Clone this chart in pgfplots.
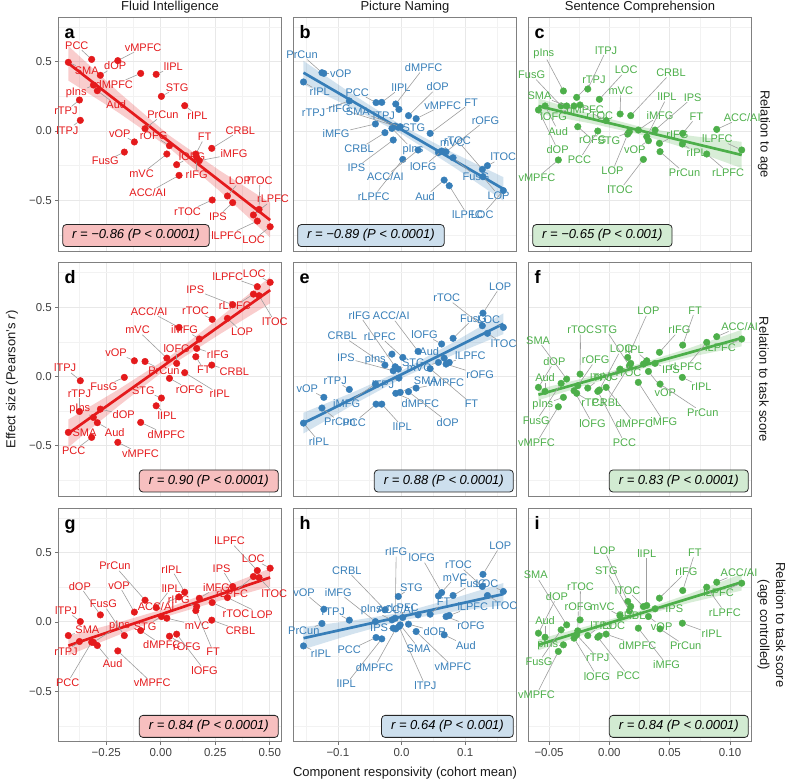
\documentclass[border=0pt]{standalone}
\usepackage{fontspec}
\setmainfont{Liberation Sans}
\usepackage{pgfplots}
\usepackage{pgfplotstable}
\pgfplotsset{compat=1.18}
\definecolor{cred}{HTML}{E41A1C}
\definecolor{cblue}{HTML}{377EB8}
\definecolor{cgreen}{HTML}{4DAF4A}

\pgfplotstableread{
n      x       ya     aa  da   yd     ad  dd  yg     ag  dg
SMA    -0.424  0.496  330 3    -0.404 0   0   -0.099 12  3
PCC    -0.317  0.517  105 6    -0.440 238 7   -0.147 252 34
vMPFC  -0.197  0.508  54  7    -0.476 299 4   -0.210 299 28
dOP    -0.277  0.402  56  2    -0.236 357 8   0.050  110 22
pIns   -0.309  0.332  202 3    -0.296 135 0   -0.148 36  15
Aud    -0.291  0.291  312 9    -0.334 324 5   -0.171 289 11
rTPJ   -0.373  0.224  260 3    -0.253 90  10  -0.142 260 2
lTPJ   -0.369  0.077  258 1.5  -0.031 113 5   0.002  111 3
dMPFC  -0.092  0.416  223 6    -0.332 311 6   -0.063 280 6
lIPL   -0.021  0.409  23  4    -0.212 278 1   0.103  72  12
STG    0.003   0.250  48  2    -0.156 154 3   0.038  231 3
rIPL   0.110   0.183  290 2    0.027  325 26  0.214  97  15
PrCun  -0.072  0.017  81  6    0.108  297 2   0.156  115 29
vOP    -0.121  -0.079 129 1.5  0.113  154 4   0.070  100 19
FusG   -0.167  -0.152 223 3    -0.007 214 4   -0.099 104 24
rOFG   0.040   -0.106 104 2    -0.014 312 5   -0.104 297 3
mVC    0.028   -0.166 231 16   0.132  125 25  0.026  352 14
lOFG   0.073   -0.243 69  0.5  0.094  90  6   -0.089 294 31
ACC/AI 0.084   -0.320 226 14   0.354  134 12  0.180  234 3
FT     0.161   -0.166 84  9    0.142  274 5   0.081  285 34
rIFG   0.165   -0.190 270 9    0.202  350 6   0.110  160 3
iMFG   0.177   -0.214 5   17   0.270  96  1   0.170  63  3
CRBL   0.234   -0.125 45  15   0.082  341 4   0.012  336 11
rTOC   0.236   -0.498 212 9    0.412  125 1   0.139  327 8
LOP    0.306   -0.469 86  7    0.419  287 6   0.175  332 22
IPS    0.330   -0.517 241 7    0.517  160 26  0.255  96  10
rLPFC  0.425   -0.606 75  8    0.594  256 4   0.327  250 10
lLPFC  0.443   -0.650 213 14   0.648  157 11  0.370  115 24
lTOC   0.451   -0.566 88  21   0.583  276 18  0.319  279 8
LOC    0.502   -0.691 242 6    0.679  133 2   0.387  138 3
}\colA

\pgfplotstableread{
n      x       yb     ab  db   ye     ae  de  yh     ah  dh
rIPL   -0.154  0.354  315 4    -0.337 288 11  -0.174 331 4
PrCun  -0.125  0.421  105 10   -0.228 279 6   -0.012 240 0
vOP    -0.122  0.416  0   2    -0.151 142 3   0.091  125 11
rTPJ   -0.082  0.217  198 21   -0.094 113 1   0.012  132 2
iMFG   -0.041  0.051  190 22   -0.055 225 17  0.002  133 30
PCC    -0.040  0.205  139 5    -0.200 235 13  -0.113 209 13
lIPL   -0.031  0.207  48  10   -0.200 300 17  -0.123 238 44
CRBL   -0.026  -0.012 228 12   0.082  138 33  0.087  123 38
pIns   -0.015  0.019  302 15   0.161  184 2   0.014  156 7
IPS    -0.013  -0.065 220 32   0.041  168 35  -0.046 180 1
rIFG   -0.010  0.036  164 42   0.070  117 49  0.026  89  58
dMPFC  -0.009  0.195  75  29   -0.122 313 4   -0.051 267 30
STG    -0.005  0.026  0   0    0.053  30  0   0.183  78  1
lTPJ   -0.004  0.156  200 0    -0.012 206 1   -0.034 285 53
SMA    -0.002  0.031  160 28   -0.115 27  11  -0.022 287 16
rLPFC  0.002   -0.205 249 31   0.137  111 14  0.031  90  2
dOP    0.011   0.111  54  26   -0.110 317 34  -0.017 351 11
vMPFC  0.023   0.089  49  8    -0.084 3   7   -0.070 300 32
ACC/AI 0.026   -0.137 238 22   0.181  104 28  0.050  170 0
FT     0.045   -0.017 38  39   0.056  318 42  0.055  52  6
mVC    0.058   -0.156 81  2    0.101  189 3   0.187  75  11
lOFG   0.063   -0.145 247 8    0.234  124 2   0.211  101 27
Aud    0.067   -0.354 234 11   0.132  164 1   -0.094 333 9
rOFG   0.070   -0.150 47  33   0.089  343 17  0.038  335 8
lLPFC  0.075   -0.395 275 21   0.101  24  2   0.046  28  5
FusG   0.081   -0.193 302 13   0.275  68  13  0.190  51  6
rTOC   0.127   -0.277 114 23   0.366  133 28  0.255  120 16
LOP    0.128   -0.330 285 11   0.457  76  19  0.343  77  21
lTOC   0.135   -0.250 58  1    0.311  295 3   0.190  304 3
LOC    0.160   -0.430 245 18   0.354  135 0   0.219  141 2
}\colB

\pgfplotstableread{
n      x        yc     ac  dc  yf     af  df  yi     ai  di
dOP    -0.0588  0.152  282 32  -0.079 79  18  -0.082 78  29
Aud    -0.0533  0.181  277 17  -0.108 90  5   -0.111 90  8
vMPFC  -0.0423  -0.209 260 10  -0.219 265 28  -0.214 266 35
FusG   -0.0400  0.181  120 27  -0.050 252 31  -0.058 254 25
pIns   -0.0381  0.289  105 29  -0.151 189 6   -0.166 180 1
SMA    -0.0354  0.181  159 12  -0.019 115 34  -0.022 112 45
lOFG   -0.0293  0.181  221 5   -0.103 279 25  -0.118 285 31
rTPJ   -0.0271  0.243  69  10  -0.122 306 3   -0.094 295 17
rOFG   -0.0262  0.031  273 5   -0.067 81  18  -0.065 88  16
rTOC   -0.0243  0.188  311 5   0.017  89  36  0.014  89  25
lTPJ   -0.0179  0.303  79  31  -0.084 74  2   -0.099 70  2
PCC    -0.0096  0.000  256 21  -0.108 287 45  -0.111 298 35
LOC    -0.0083  0.229  59  25  -0.098 75  34  -0.101 65  2
dMPFC  -0.0027  0.075  103 3   -0.079 286 29  -0.089 333 10
mVC    0.0089   0.123  88  15  0.053  250 0   0.045  136 3
LOP    0.0152   -0.022 264 29  0.137  78  39  0.147  104 44
STG    0.0166   -0.005 207 6   0.077  110 30  0.079  107 34
CRBL   0.0177   0.111  57  42  0.094  256 32  0.111  270 1
iMFG   0.0240   0.007  53  9   -0.043 288 33  -0.046 294 31
lTOC   0.0282   -0.205 249 24  0.089  250 0   0.110  101 8
lIPL   0.0310   -0.041 74  33  0.113  109 3   0.118  90  44
vOP    0.0324   -0.070 242 1   0.036  288 14  0.038  288 2
IPS    0.0379   0.007  45  36  0.094  343 3   0.094  2   6
rIFG   0.0415   -0.089 34  4   0.174  65  16  0.171  55  23
PrCun  0.0420   -0.149 296 15  -0.055 318 32  -0.051 307 12
FT     0.0608   -0.017 63  10  0.226  81  27  0.226  82  30
rIPL   0.0605   -0.094 308 2   -0.007 330 6   -0.010 342 16
rLPFC  0.0807   -0.166 289 11  0.246  259 17  0.250  274 17
ACC/AI 0.0890   0.012  48  6   0.287  54  3   0.286  55  2
lLPFC  0.1097   -0.137 142 7   0.270  218 3   0.279  214 5
}\colC

\tikzset{
  every pin/.style={font=\fontsize{11}{11}\selectfont, inner sep=0.6pt},
  every pin edge/.style={draw=black!38, line width=0.6pt},
  letter/.style={anchor=north west, inner sep=0pt, text height=13.3pt,
    font=\fontsize{18}{18}\selectfont\bfseries, xshift=6pt, yshift=-7.7pt},
  rbox/.style={draw=black!85, line width=0.8pt, rounded corners=3.5pt,
    inner xsep=9.5pt, inner ysep=4.9pt, text height=9.5pt, text depth=2.7pt,
    font=\fontsize{13}{13}\selectfont\itshape},
  boxl/.style={rbox, anchor=south west, xshift=4pt, yshift=4pt},
  boxr/.style={rbox, anchor=south east, xshift=-3pt, yshift=4pt},
}

\pgfplotsset{
  panel/.style={
    scale only axis, width=223.4pt, height=233.7pt, anchor=south west,
    ymin=-0.866, ymax=0.821,
    ytick={-0.5,0,0.5}, minor ytick={-0.75,-0.25,0.25,0.75},
    yticklabels={}, xticklabels={},
    grid=both,
    major grid style={draw=black!9, line width=0.7pt},
    minor grid style={draw=black!5, line width=0.4pt},
    axis line style={draw=black!50, line width=0.7pt},
    tick align=outside, tick pos=left,
    major tick length=3pt, minor tick length=0pt,
    xtick style={draw=none}, ytick style={draw=none},
    tick label style={font=\fontsize{11.5}{12}\selectfont, text=black!75},
  },
  col1/.style={xmin=-0.47, xmax=0.555, xtick={-0.25,0,0.25,0.5},
    minor xtick={-0.375,-0.125,0.125,0.375}},
  col2/.style={xmin=-0.170, xmax=0.181, xtick={-0.1,0,0.1},
    minor xtick={-0.15,-0.05,0.05,0.15}},
  col3/.style={xmin=-0.0672, xmax=0.118, xtick={-0.05,0,0.05,0.1},
    minor xtick={-0.025,0.025,0.075}},
  lefty/.style={yticklabels={−0.5,0.0,0.5}, ytick style={draw=black!55, line width=0.6pt}},
  bot1/.style={xticklabels={−0.25,0.00,0.25,0.50}, xtick style={draw=black!55, line width=0.6pt}},
  bot2/.style={xticklabels={−0.1,0.0,0.1}, xtick style={draw=black!55, line width=0.6pt}},
  bot3/.style={xticklabels={−0.05,0.00,0.05,0.10}, xtick style={draw=black!55, line width=0.6pt}},
  pts/.style n args={3}{only marks, mark=*, mark size=3.3pt, color=#1,
    point meta=explicit symbolic,
    visualization depends on={\thisrow{#2}\as\pa},
    visualization depends on={\thisrow{#3}\as\pd},
    nodes near coords={},
    every node near coord/.style={anchor=center, circle, inner sep=0pt, minimum size=6.6pt,
      pin={[pin distance=\pd pt, text=#1]\pa:\pgfplotspointmeta}}},
  band/.style={draw=none, fill=#1, fill opacity=0.22},
  regl/.style={no markers, line width=2.7pt, color=#1},
}

\begin{document}
\begin{tikzpicture}[x=1pt,y=1pt]
\useasboundingbox (0,0) rectangle (786,783);

% ---------- row 1 ----------
\begin{axis}[panel, col1, lefty, at={(58.3pt,532pt)}]
\addplot[band=cred] coordinates {(-0.424,0.614) (-0.192,0.279) (0.039,-0.032) (0.270,-0.285) (0.502,-0.518) (0.502,-0.768) (0.270,-0.433) (0.039,-0.122) (-0.192,0.131) (-0.424,0.364)} -- cycle;
\addplot[regl=cred] coordinates {(-0.424,0.489) (0.502,-0.643)};
\addplot[pts={cred}{aa}{da}] table[x=x, y=ya, meta=n] {\colA};
\node[letter] at (rel axis cs:0,1) {a};
\node[boxl, fill=cred!28] at (rel axis cs:0,0) {r = −0.86 (P < 0.0001)};
\end{axis}

\begin{axis}[panel, col2, at={(293.3pt,532pt)}]
\addplot[band=cblue] coordinates {(-0.154,0.506) (-0.0755,0.261) (0.003,0.032) (0.0815,-0.158) (0.160,-0.333) (0.160,-0.503) (0.0815,-0.258) (0.003,-0.029) (-0.0755,0.161) (-0.154,0.336)} -- cycle;
\addplot[regl=cblue] coordinates {(-0.154,0.421) (0.160,-0.418)};
\addplot[pts={cblue}{ab}{db}] table[x=x, y=yb, meta=n] {\colB};
\node[letter] at (rel axis cs:0,1) {b};
\node[boxl, fill=cblue!25] at (rel axis cs:0,0) {r = −0.89 (P < 0.0001)};
\end{axis}

\begin{axis}[panel, col3, at={(528.3pt,532pt)}]
\addplot[band=cgreen] coordinates {(-0.0588,0.235) (-0.0167,0.127) (0.0255,0.031) (0.0676,-0.035) (0.1097,-0.078) (0.1097,-0.268) (0.0676,-0.135) (0.0255,-0.025) (-0.0167,0.057) (-0.0588,0.125)} -- cycle;
\addplot[regl=cgreen] coordinates {(-0.0588,0.180) (0.1097,-0.173)};
\addplot[pts={cgreen}{ac}{dc}] table[x=x, y=yc, meta=n] {\colC};
\node[letter] at (rel axis cs:0,1) {c};
\node[boxl, fill=cgreen!25] at (rel axis cs:0,0) {r = −0.65 (P < 0.001)};
\end{axis}

% ---------- row 2 ----------
\begin{axis}[panel, col1, lefty, at={(58.3pt,286.6pt)}]
\addplot[band=cred] coordinates {(-0.424,-0.311) (-0.192,-0.092) (0.039,0.141) (0.270,0.424) (0.502,0.718) (0.502,0.528) (0.270,0.304) (0.039,0.071) (-0.192,-0.212) (-0.424,-0.511)} -- cycle;
\addplot[regl=cred] coordinates {(-0.424,-0.411) (0.502,0.623)};
\addplot[pts={cred}{ad}{dd}] table[x=x, y=yd, meta=n] {\colA};
\node[letter] at (rel axis cs:0,1) {d};
\node[boxr, fill=cred!28] at (rel axis cs:1,0) {r = 0.90 (P < 0.0001)};
\end{axis}

\begin{axis}[panel, col2, at={(293.3pt,286.6pt)}]
\addplot[band=cblue] coordinates {(-0.154,-0.262) (-0.0755,-0.113) (0.003,0.049) (0.0815,0.246) (0.160,0.455) (0.160,0.305) (0.0815,0.156) (0.003,-0.007) (-0.0755,-0.203) (-0.154,-0.412)} -- cycle;
\addplot[regl=cblue] coordinates {(-0.154,-0.337) (0.160,0.380)};
\addplot[pts={cblue}{ae}{de}] table[x=x, y=ye, meta=n] {\colB};
\node[letter] at (rel axis cs:0,1) {e};
\node[boxr, fill=cblue!25] at (rel axis cs:1,0) {r = 0.88 (P < 0.0001)};
\end{axis}

\begin{axis}[panel, col3, at={(528.3pt,286.6pt)}]
\addplot[band=cgreen] coordinates {(-0.0588,-0.092) (-0.0167,-0.004) (0.0255,0.093) (0.0676,0.208) (0.1097,0.337) (0.1097,0.217) (0.0676,0.142) (0.0255,0.053) (-0.0167,-0.056) (-0.0588,-0.172)} -- cycle;
\addplot[regl=cgreen] coordinates {(-0.0588,-0.132) (0.1097,0.277)};
\addplot[pts={cgreen}{af}{df}] table[x=x, y=yf, meta=n] {\colC};
\node[letter] at (rel axis cs:0,1) {f};
\node[boxr, fill=cgreen!25] at (rel axis cs:1,0) {r = 0.83 (P < 0.0001)};
\end{axis}

% ---------- row 3 ----------
\begin{axis}[panel, col1, lefty, bot1, at={(58.3pt,41.2pt)}]
\addplot[band=cred] coordinates {(-0.424,-0.102) (-0.192,-0.004) (0.039,0.104) (0.270,0.242) (0.502,0.385) (0.502,0.255) (0.270,0.152) (0.039,0.044) (-0.192,-0.094) (-0.424,-0.242)} -- cycle;
\addplot[regl=cred] coordinates {(-0.424,-0.172) (0.502,0.320)};
\addplot[pts={cred}{ag}{dg}] table[x=x, y=yg, meta=n] {\colA};
\node[letter] at (rel axis cs:0,1) {g};
\node[boxr, fill=cred!28] at (rel axis cs:1,0) {r = 0.84 (P < 0.0001)};
\end{axis}

\begin{axis}[panel, col2, bot2, at={(293.3pt,41.2pt)}]
\addplot[band=cblue] coordinates {(-0.154,-0.038) (-0.0755,0.010) (0.003,0.069) (0.0815,0.169) (0.160,0.280) (0.160,0.120) (0.0815,0.073) (0.003,0.013) (-0.0755,-0.087) (-0.154,-0.198)} -- cycle;
\addplot[regl=cblue] coordinates {(-0.154,-0.118) (0.160,0.200)};
\addplot[pts={cblue}{ah}{dh}] table[x=x, y=yh, meta=n] {\colB};
\node[letter] at (rel axis cs:0,1) {h};
\node[boxr, fill=cblue!25] at (rel axis cs:1,0) {r = 0.64 (P < 0.001)};
\end{axis}

\begin{axis}[panel, col3, bot3, at={(528.3pt,41.2pt)}]
\addplot[band=cgreen] coordinates {(-0.0588,-0.126) (-0.0167,-0.027) (0.0255,0.080) (0.0676,0.206) (0.1097,0.346) (0.1097,0.226) (0.0676,0.140) (0.0255,0.040) (-0.0167,-0.079) (-0.0588,-0.206)} -- cycle;
\addplot[regl=cgreen] coordinates {(-0.0588,-0.166) (0.1097,0.286)};
\addplot[pts={cgreen}{ai}{di}] table[x=x, y=yi, meta=n] {\colC};
\node[letter] at (rel axis cs:0,1) {i};
\node[boxr, fill=cgreen!25] at (rel axis cs:1,0) {r = 0.84 (P < 0.0001)};
\end{axis}

% ---------- outer texts ----------
\begin{scope}[every node/.style={font=\fontsize{13}{16}\selectfont, text=black!90}]
\node at (170,776) {Fluid Intelligence};
\node at (405,776) {Picture Naming};
\node at (640,776) {Sentence Comprehension};
\node[rotate=90] at (12,403.5) {Effect size (Pearson’s \textit{r})};
\node at (405,10) {Component responsivity (cohort mean)};
\node[rotate=-90] at (764,648.9) {Relation to age};
\node[rotate=-90] at (764,403.5) {Relation to task score};
\node[rotate=-90, align=center] at (771.5,158) {Relation to task score\\(age controlled)};
\end{scope}
\end{tikzpicture}
\end{document}
